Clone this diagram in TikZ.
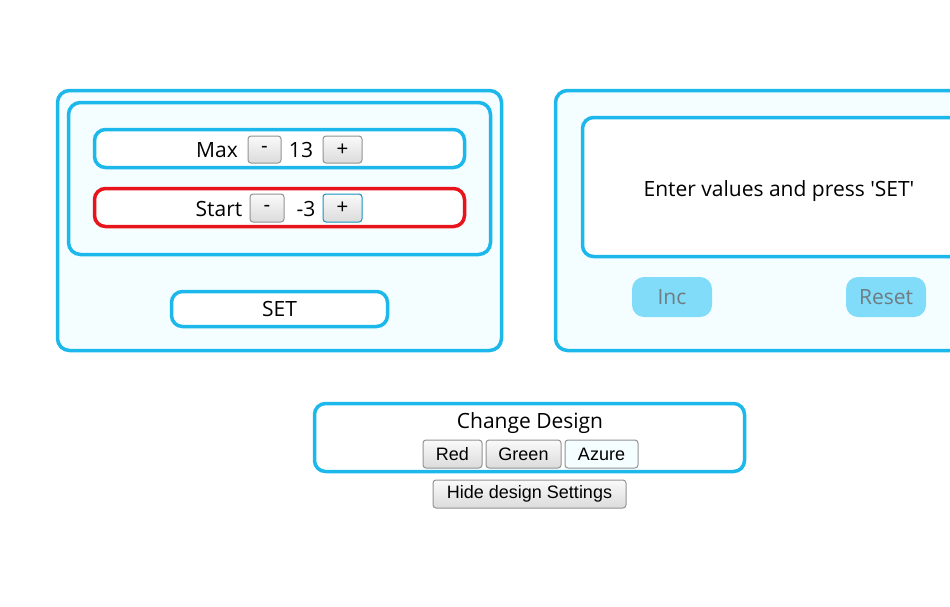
\documentclass[tikz,border=0pt]{standalone}
\usepackage{fontspec}
\setmainfont{Open Sans}
\newfontfamily\btnfont{Liberation Sans}
\definecolor{uiblue}{RGB}{28,184,236}
\definecolor{uipale}{RGB}{244,253,255}
\definecolor{uilight}{RGB}{128,220,248}
\definecolor{uigray}{RGB}{112,124,130}
\definecolor{uired}{RGB}{232,20,28}
\tikzset{
    panel/.style={draw=uiblue, line width=3.5pt, rounded corners=12pt, fill=uipale, inner sep=0pt},
    field/.style={draw=uiblue, line width=3.5pt, rounded corners=11pt, fill=white, inner sep=0pt},
    knob/.style={draw=gray!85, line width=1pt, rounded corners=3pt, top color=gray!4, bottom color=gray!28, inner sep=0pt, font=\btnfont\fontsize{18}{20}\selectfont},
    flat/.style={fill=uilight, rounded corners=12pt, text=uigray, inner sep=0pt},
    label/.style={font=\fontsize{21}{24}\selectfont}
}
\begin{document}
\begin{tikzpicture}[x=1pt,y=-1pt]
    \useasboundingbox[fill=white] (0,0) rectangle (950,606);
    \clip (0,0) rectangle (950,606);
    % left: settings panel
    \node[panel, minimum width=444pt, minimum height=260pt] (setpanel) at (279.5,220.5) {};
    \node[panel, minimum width=422pt, minimum height=152pt] (inputs) at (279.5,178.5) {};
    \node[field, minimum width=370pt, minimum height=38pt] (maxrow) at (279.5,148.5) {};
    \node[field, draw=uired, minimum width=370pt, minimum height=38pt] (startrow) at (279.5,207.5) {};
    \node[label] (maxtxt) at (217,150) {Max};
    \node[knob, minimum width=33pt, minimum height=27pt, font=\btnfont\fontsize{20}{20}\selectfont] (maxminus) at (264.5,149.5) {-};
    \node[label] (maxval) at (301,150) {13};
    \node[knob, minimum width=39pt, minimum height=27pt, font=\btnfont\fontsize{20}{20}\selectfont] (maxplus) at (342.5,149.5) {+};
    \node[label] (starttxt) at (219,209) {Start};
    \node[knob, minimum width=34pt, minimum height=28pt, font=\btnfont\fontsize{20}{20}\selectfont] (startminus) at (267,208) {-};
    \node[label] (startval) at (306,209) {-3};
    \node[knob, draw=uiblue!80!black, minimum width=39pt, minimum height=28pt, font=\btnfont\fontsize{20}{20}\selectfont] (startplus) at (342.5,208) {+};
    \node[field, minimum width=216pt, minimum height=35pt, label] (setbtn) at (279.5,309) {SET};
    % right: counter panel
    \node[panel, minimum width=444pt, minimum height=260pt] (countpanel) at (777.5,220.5) {};
    \node[field, minimum width=392pt, minimum height=139pt] (display) at (778.5,187) {};
    \node[label] (msg) at (779,191.5) {Enter values and press \textquotesingle SET\textquotesingle};
    \node[flat, minimum width=80pt, minimum height=40pt, label, text=uigray] (incbtn) at (672,297) {Inc};
    \node[flat, minimum width=80pt, minimum height=40pt, label, text=uigray] (resetbtn) at (886,297) {Reset};
    % design chooser
    \node[field, minimum width=430pt, minimum height=68pt] (design) at (529.5,437.5) {};
    \node[label] (designtxt) at (530,423.5) {Change Design};
    \node[knob, minimum width=59pt, minimum height=28pt] (redbtn) at (452.5,454) {Red};
    \node[knob, minimum width=75pt, minimum height=28pt] (greenbtn) at (523.5,454) {Green};
    \node[knob, top color=uipale, bottom color=uipale, minimum width=73pt, minimum height=28pt] (azurebtn) at (601.5,454) {Azure};
    \node[knob, minimum width=193pt, minimum height=28pt] (hidebtn) at (529.5,494) {Hide design Settings};
\end{tikzpicture}
\end{document}
